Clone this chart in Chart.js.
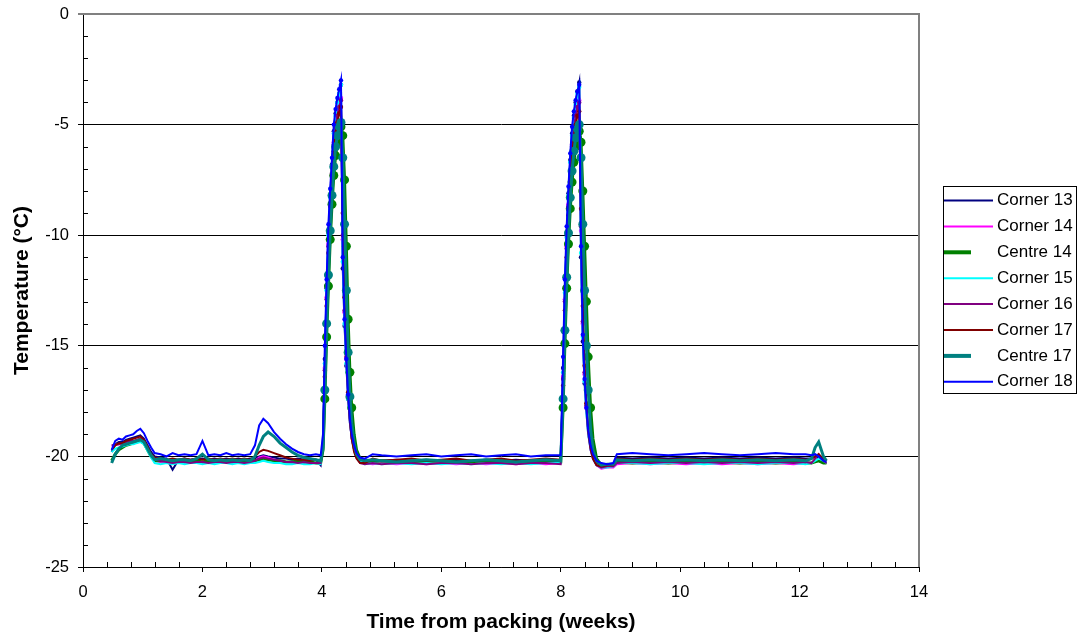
<!DOCTYPE html>
<html>
<head>
<meta charset="utf-8">
<title>Temperature log</title>
<script src="https://cdn.jsdelivr.net/npm/chart.js@4.4.0/dist/chart.umd.min.js"></script>
<style>
    html, body { margin: 0; padding: 0; background: #fff; }
</style>
</head>
<body>
<canvas id="tempChart" width="1082" height="639"></canvas>
<script>
// sample times, weeks since packing (shared by every logger)
const weeks = [
    0.48, 0.54, 0.6, 0.66, 0.72, 0.78, 0.84, 0.9, 0.96, 1.02, 1.08, 1.14, 1.2,
    1.3, 1.4, 1.5, 1.6, 1.7, 1.8, 1.9, 2.0, 2.1, 2.2, 2.3, 2.4, 2.5, 2.6, 2.7, 2.8,
    2.88, 2.95, 3.02, 3.1, 3.2, 3.3, 3.4, 3.5, 3.6, 3.7, 3.8, 3.9, 3.98,
    4.02, 4.05, 4.08, 4.11, 4.14, 4.17, 4.2, 4.23, 4.26, 4.29, 4.32,
    4.35, 4.38, 4.41, 4.44, 4.47, 4.5, 4.54, 4.58, 4.64, 4.72,
    4.85, 5.0, 5.25, 5.5, 5.75, 6.0, 6.25, 6.5, 6.75, 7.0, 7.25, 7.5, 7.75, 8.0,
    8.04, 8.07, 8.1, 8.13, 8.16, 8.19, 8.22, 8.25, 8.28, 8.31,
    8.34, 8.37, 8.4, 8.43, 8.46, 8.5, 8.54, 8.6, 8.68, 8.78, 8.88,
    8.94, 9.2, 9.5, 9.8, 10.1, 10.4, 10.7, 11.0, 11.3, 11.6, 11.9, 12.1, 12.2, 12.26, 12.32, 12.4, 12.45
];

const corner13 = [
    -19.8, -19.45, -19.35, -19.35, -19.25, -19.2, -19.15, -19.1, -19.05, -19.2, -19.5, -19.8, -20.0,
    -20.05, -20.1, -20.6, -20.15, -20.1, -20.15, -20.1, -20.1, -20.15, -20.1, -20.15, -20.1, -20.15, -20.1, -20.15, -20.1,
    -20.1, -20.0, -19.95, -20.0, -20.05, -20.1, -20.1, -20.15, -20.1, -20.15, -20.1, -20.15, -20.4,
    -19.3, -15.6, -12.4, -9.9, -8.2, -6.8, -5.3, -4.5, -4.0, -3.6, -3.2,
    -11.5, -14.1, -15.9, -17.4, -18.5, -19.1, -19.6, -19.95, -20.15, -20.2,
    -20.15, -20.2, -20.15, -20.2, -20.15, -20.2, -20.15, -20.2, -20.15, -20.2, -20.15, -20.2, -20.15, -20.2,
    -16.0, -12.4, -10.0, -8.1, -6.6, -5.4, -4.6, -4.0, -3.5, -3.1,
    -11.0, -14.8, -16.7, -18.0, -19.0, -19.6, -20.0, -20.3, -20.4, -20.45, -20.4,
    -20.05, -20.1, -20.05, -20.1, -20.05, -20.1, -20.05, -20.1, -20.05, -20.1, -20.05, -20.1, -20.1, -20.0, -20.1, -20.3, -20.3
];
const corner14 = [
    -19.55, -19.5, -19.45, -19.45, -19.4, -19.35, -19.3, -19.3, -19.25, -19.35, -19.7, -20.0, -20.2,
    -20.25, -20.3, -20.25, -20.3, -20.3, -20.25, -20.3, -20.3, -20.25, -20.3, -20.3, -20.25, -20.3, -20.3, -20.25, -20.3,
    -20.2, -20.05, -20.0, -20.05, -20.15, -20.2, -20.25, -20.3, -20.3, -20.3, -20.3, -20.3, -20.35,
    -19.4, -16.0, -12.8, -10.4, -8.6, -7.2, -5.8, -5.0, -4.5, -4.1, -3.8,
    -10.2, -13.5, -15.6, -17.3, -18.5, -19.2, -19.7, -20.0, -20.25, -20.3,
    -20.35, -20.3, -20.35, -20.3, -20.35, -20.3, -20.35, -20.3, -20.35, -20.3, -20.35, -20.3, -20.35, -20.3,
    -16.4, -12.9, -10.5, -8.6, -7.1, -5.9, -5.1, -4.5, -4.1, -3.9,
    -9.8, -14.0, -16.3, -17.8, -18.9, -19.7, -20.1, -20.4, -20.55, -20.5, -20.5,
    -20.35, -20.3, -20.35, -20.3, -20.35, -20.3, -20.35, -20.3, -20.35, -20.3, -20.35, -20.3, -20.3, -20.2, -20.2, -20.3, -20.3
];
const centre14 = [
    -20.2, -19.9, -19.7, -19.6, -19.5, -19.45, -19.4, -19.35, -19.3, -19.4, -19.7, -20.0, -20.2,
    -20.2, -20.2, -20.25, -20.2, -20.25, -20.2, -20.2, -20.25, -20.2, -20.25, -20.2, -20.2, -20.25, -20.2, -20.25, -20.2,
    -20.2, -20.15, -20.1, -20.15, -20.2, -20.2, -20.25, -20.25, -20.2, -20.25, -20.25, -20.3, -20.3,
    -19.7, -17.4, -14.6, -12.3, -10.2, -8.6, -7.3, -6.4, -5.8, -5.4, -5.1,
    -5.5, -7.5, -10.5, -13.8, -16.2, -17.8, -19.0, -19.7, -20.1, -20.25,
    -20.25, -20.2, -20.25, -20.3, -20.25, -20.2, -20.25, -20.3, -20.25, -20.2, -20.25, -20.3, -20.25, -20.25,
    -17.8, -14.9, -12.4, -10.4, -8.8, -7.6, -6.7, -6.0, -5.6, -5.3,
    -5.8, -8.0, -10.5, -13.0, -15.5, -17.8, -19.2, -20.1, -20.4, -20.4, -20.4,
    -20.25, -20.3, -20.25, -20.3, -20.25, -20.3, -20.25, -20.3, -20.25, -20.3, -20.25, -20.3, -20.3, -20.25, -20.2, -20.3, -20.3
];
const corner15 = [
    -19.8, -19.65, -19.6, -19.55, -19.5, -19.45, -19.45, -19.4, -19.35, -19.45, -19.75, -20.05, -20.3,
    -20.35, -20.3, -20.35, -20.3, -20.35, -20.3, -20.3, -20.35, -20.3, -20.35, -20.3, -20.3, -20.35, -20.3, -20.35, -20.3,
    -20.3, -20.25, -20.2, -20.25, -20.3, -20.3, -20.35, -20.35, -20.3, -20.35, -20.35, -20.3, -20.35,
    -19.4, -15.8, -12.5, -10.0, -8.3, -6.9, -5.4, -4.6, -4.0, -3.6, -3.2,
    -11.2, -14.0, -15.8, -17.4, -18.5, -19.2, -19.7, -20.0, -20.2, -20.35,
    -20.3, -20.35, -20.3, -20.35, -20.3, -20.35, -20.3, -20.35, -20.3, -20.35, -20.3, -20.35, -20.3, -20.3,
    -16.2, -12.6, -10.1, -8.2, -6.7, -5.5, -4.7, -4.1, -3.6, -3.3,
    -10.8, -14.6, -16.6, -18.0, -19.0, -19.7, -20.1, -20.4, -20.5, -20.5, -20.45,
    -20.3, -20.3, -20.35, -20.3, -20.3, -20.35, -20.3, -20.3, -20.35, -20.3, -20.3, -20.35, -20.3, -20.2, -20.1, -20.2, -20.3
];
const corner16 = [
    -19.5, -19.45, -19.45, -19.4, -19.35, -19.3, -19.3, -19.25, -19.2, -19.3, -19.6, -19.95, -20.15,
    -20.2, -20.25, -20.3, -20.25, -20.25, -20.3, -20.25, -20.25, -20.3, -20.25, -20.25, -20.3, -20.25, -20.25, -20.3, -20.25,
    -20.2, -20.1, -20.05, -20.1, -20.15, -20.2, -20.25, -20.25, -20.3, -20.25, -20.3, -20.3, -20.3,
    -19.4, -16.1, -12.9, -10.5, -8.7, -7.3, -5.9, -5.1, -4.6, -4.2, -3.9,
    -10.0, -13.4, -15.5, -17.2, -18.4, -19.2, -19.7, -20.05, -20.3, -20.35,
    -20.3, -20.35, -20.3, -20.3, -20.35, -20.3, -20.3, -20.35, -20.3, -20.3, -20.35, -20.3, -20.3, -20.35,
    -16.5, -13.0, -10.6, -8.7, -7.2, -6.0, -5.2, -4.6, -4.2, -4.0,
    -9.6, -13.9, -16.2, -17.7, -18.9, -19.7, -20.1, -20.4, -20.5, -20.45, -20.45,
    -20.3, -20.25, -20.3, -20.25, -20.3, -20.25, -20.3, -20.25, -20.3, -20.25, -20.3, -20.25, -20.3, -20.1, -19.9, -20.2, -20.3
];
const corner17 = [
    -19.7, -19.5, -19.4, -19.4, -19.3, -19.25, -19.2, -19.15, -19.1, -19.25, -19.55, -19.9, -20.05,
    -20.1, -20.15, -20.1, -20.15, -20.1, -20.15, -20.1, -20.15, -20.1, -20.15, -20.1, -20.15, -20.1, -20.15, -20.1, -20.15,
    -20.0, -19.8, -19.7, -19.75, -19.85, -19.95, -20.05, -20.1, -20.15, -20.15, -20.2, -20.15, -20.2,
    -19.5, -16.4, -13.2, -10.8, -9.0, -7.6, -6.2, -5.4, -4.9, -4.5, -4.2,
    -9.0, -12.8, -15.3, -17.1, -18.4, -19.2, -19.8, -20.1, -20.3, -20.3,
    -20.1, -20.2, -20.15, -20.1, -20.2, -20.15, -20.1, -20.2, -20.15, -20.1, -20.2, -20.15, -20.1, -20.15,
    -16.8, -13.4, -11.0, -9.1, -7.6, -6.4, -5.6, -5.0, -4.6, -4.4,
    -8.8, -13.2, -15.9, -17.6, -18.8, -19.6, -20.1, -20.4, -20.45, -20.4, -20.4,
    -20.1, -20.15, -20.1, -20.15, -20.1, -20.15, -20.1, -20.15, -20.1, -20.15, -20.1, -20.15, -20.1, -20.0, -19.9, -20.1, -20.2
];
const centre17 = [
    -20.3, -19.9, -19.65, -19.5, -19.45, -19.4, -19.35, -19.3, -19.25, -19.35, -19.65, -19.95, -20.15,
    -20.1, -20.15, -20.2, -20.15, -20.15, -20.2, -20.1, -19.9, -20.15, -20.2, -20.15, -20.2, -20.15, -20.2, -20.15, -20.2,
    -20.0, -19.5, -19.1, -18.9, -19.1, -19.4, -19.6, -19.8, -19.95, -20.05, -20.1, -20.15, -20.2,
    -19.6, -17.0, -14.0, -11.8, -9.8, -8.2, -6.9, -6.0, -5.5, -5.1, -4.9,
    -6.5, -9.5, -12.5, -15.3, -17.3, -18.5, -19.4, -19.9, -20.15, -20.2,
    -20.15, -20.2, -20.25, -20.2, -20.15, -20.2, -20.25, -20.2, -20.15, -20.2, -20.25, -20.2, -20.15, -20.2,
    -17.4, -14.3, -11.9, -9.9, -8.3, -7.1, -6.2, -5.6, -5.2, -5.0,
    -6.5, -9.5, -12.5, -15.0, -17.0, -18.8, -19.7, -20.2, -20.4, -20.35, -20.35,
    -20.15, -20.2, -20.15, -20.2, -20.15, -20.2, -20.15, -20.2, -20.15, -20.2, -20.15, -20.2, -20.1, -19.6, -19.35, -20.0, -20.2
];
const corner18 = [
    -19.7, -19.3, -19.2, -19.25, -19.1, -19.05, -19.0, -18.85, -18.75, -18.95, -19.3, -19.6, -19.85,
    -19.9, -20.0, -19.85, -19.95, -19.9, -19.95, -19.9, -19.3, -19.95, -19.9, -19.95, -19.85, -19.95, -19.9, -19.95, -19.9,
    -19.5, -18.6, -18.3, -18.5, -18.9, -19.2, -19.45, -19.65, -19.8, -19.9, -19.95, -19.9, -19.95,
    -19.0, -15.0, -12.0, -9.5, -7.9, -6.5, -5.0, -4.3, -3.8, -3.4, -3.0,
    -11.0, -13.8, -15.6, -17.2, -18.3, -19.0, -19.5, -19.85, -20.05, -20.1,
    -19.9, -19.95, -20.0, -19.95, -19.9, -20.0, -19.95, -19.9, -20.0, -19.95, -19.9, -20.0, -19.95, -19.95,
    -15.5, -12.0, -9.6, -7.8, -6.3, -5.1, -4.4, -3.9, -3.5, -3.2,
    -10.5, -14.5, -16.5, -17.8, -18.8, -19.5, -19.9, -20.2, -20.3, -20.35, -20.3,
    -19.9, -19.85, -19.9, -19.95, -19.9, -19.85, -19.9, -19.95, -19.9, -19.85, -19.9, -19.9, -19.95, -19.9, -20.0, -20.2, -20.25
];

const seriesNames = ['Corner 13', 'Corner 14', 'Centre 14', 'Corner 15', 'Corner 16', 'Corner 17', 'Centre 17', 'Corner 18'];
const seriesValues = [corner13, corner14, centre14, corner15, corner16, corner17, centre17, corner18];

// look of each logger: line colour, line width, dot size on the warm spikes, legend key length
const seriesStyles = [
    { color: '#000080', width: 2, dot: 2.2, key: 49 },
    { color: '#FF00FF', width: 2, dot: 2.2, key: 49 },
    { color: '#008000', width: 3, dot: 4.5, key: 27 },
    { color: '#00FFFF', width: 2, dot: 2.2, key: 49 },
    { color: '#800080', width: 2, dot: 2.2, key: 49 },
    { color: '#800000', width: 2, dot: 2.2, key: 49 },
    { color: '#008080', width: 3, dot: 4.5, key: 27 },
    { color: '#0000FF', width: 2, dot: 2.2, key: 49 }
];

const FONT = '"Liberation Sans", Arial, sans-serif';

const datasets = seriesNames.map((name, i) => ({
    label: name,
    data: seriesValues[i].map((v, j) => ({ x: weeks[j], y: v })),
    borderColor: seriesStyles[i].color,
    backgroundColor: seriesStyles[i].color,
    borderWidth: seriesStyles[i].width,
    pointRadius: ctx => (ctx.parsed && ctx.parsed.y > -18 ? seriesStyles[i].dot : 0),
    pointBorderWidth: 0,
    tension: 0,
    fill: false,
    // first series sits at the bottom, last on top
    order: seriesNames.length - i
}));

// minor ticks on the inside of both axes plus the grey frame on top/right
const frame = {
    id: 'frame',
    afterDraw(chart) {
        const { ctx, chartArea: a, scales: { x, y } } = chart;
        ctx.save();
        ctx.strokeStyle = '#000';
        ctx.lineWidth = 1;
        ctx.beginPath();
        for (let v = -24; v < 0; v++) {
            if (v % 5 === 0) continue;
            const py = Math.round(y.getPixelForValue(v)) + 0.5;
            ctx.moveTo(a.left, py);
            ctx.lineTo(a.left + 5, py);
        }
        for (let k = 1; k < 35; k++) {
            if (k % 5 === 0) continue;
            const px = Math.round(x.getPixelForValue(k * 0.4)) + 0.5;
            ctx.moveTo(px, a.bottom);
            ctx.lineTo(px, a.bottom - 5);
        }
        ctx.stroke();

        ctx.strokeStyle = '#808080';
        ctx.lineWidth = 2;
        ctx.beginPath();
        ctx.moveTo(a.left, a.top);
        ctx.lineTo(a.right, a.top);
        ctx.lineTo(a.right, a.bottom);
        ctx.stroke();
        ctx.restore();
    }
};

// boxed legend on the right
const keyBox = {
    id: 'keyBox',
    afterDraw(chart) {
        const ctx = chart.ctx;
        ctx.save();
        ctx.strokeStyle = '#000';
        ctx.lineWidth = 1;
        ctx.strokeRect(943.5, 186.5, 133, 207);
        ctx.font = '17px ' + FONT;
        ctx.textBaseline = 'middle';
        ctx.fillStyle = '#000';
        chart.data.datasets.forEach((ds, i) => {
            const st = seriesStyles[i];
            const ky = 200.5 + i * 25.9;
            ctx.strokeStyle = st.color;
            ctx.lineWidth = st.width > 2 ? 4 : 2;
            ctx.beginPath();
            ctx.moveTo(944, ky);
            ctx.lineTo(944 + st.key, ky);
            ctx.stroke();
            ctx.fillText(ds.label, 997, ky);
        });
        ctx.restore();
    }
};

const chart = new Chart(document.getElementById('tempChart'), {
    type: 'line',
    data: { datasets },
    options: {
        responsive: false,
        animation: false,
        layout: { padding: { top: 14, right: 163, left: 0, bottom: 0 } },
        plugins: { legend: { display: false }, tooltip: { enabled: false } },
        scales: {
            x: {
                type: 'linear', min: 0, max: 14,
                afterFit: s => { s.height = 72; s.paddingLeft = 0; s.paddingRight = 0; },
                ticks: { stepSize: 2, color: '#000', padding: 11, font: { family: FONT, size: 16.5 } },
                grid: { drawOnChartArea: false, color: '#000', tickLength: 5 },
                border: { color: '#000', width: 1 },
                title: { display: true, text: 'Time from packing (weeks)', color: '#000',
                         font: { family: FONT, size: 21, weight: 'bold' }, padding: { top: 0, bottom: 4 } }
            },
            y: {
                min: -25, max: 0,
                afterFit: s => { s.width = 83; s.paddingTop = 0; s.paddingBottom = 0; },
                ticks: { stepSize: 5, color: '#000', padding: 9, font: { family: FONT, size: 16.5 } },
                grid: {
                    color: c => (c.tick && c.tick.value === 0 ? '#808080' : '#000'),
                    lineWidth: c => (c.tick && c.tick.value === 0 ? 2 : 1),
                    tickLength: 5
                },
                border: { color: '#000', width: 1 },
                title: { display: true, text: 'Temperature (°C)', color: '#000',
                         font: { family: FONT, size: 21, weight: 'bold' }, padding: { top: 10, bottom: 0 } }
            }
        }
    },
    plugins: [frame, keyBox]
});
</script>
</body>
</html>
